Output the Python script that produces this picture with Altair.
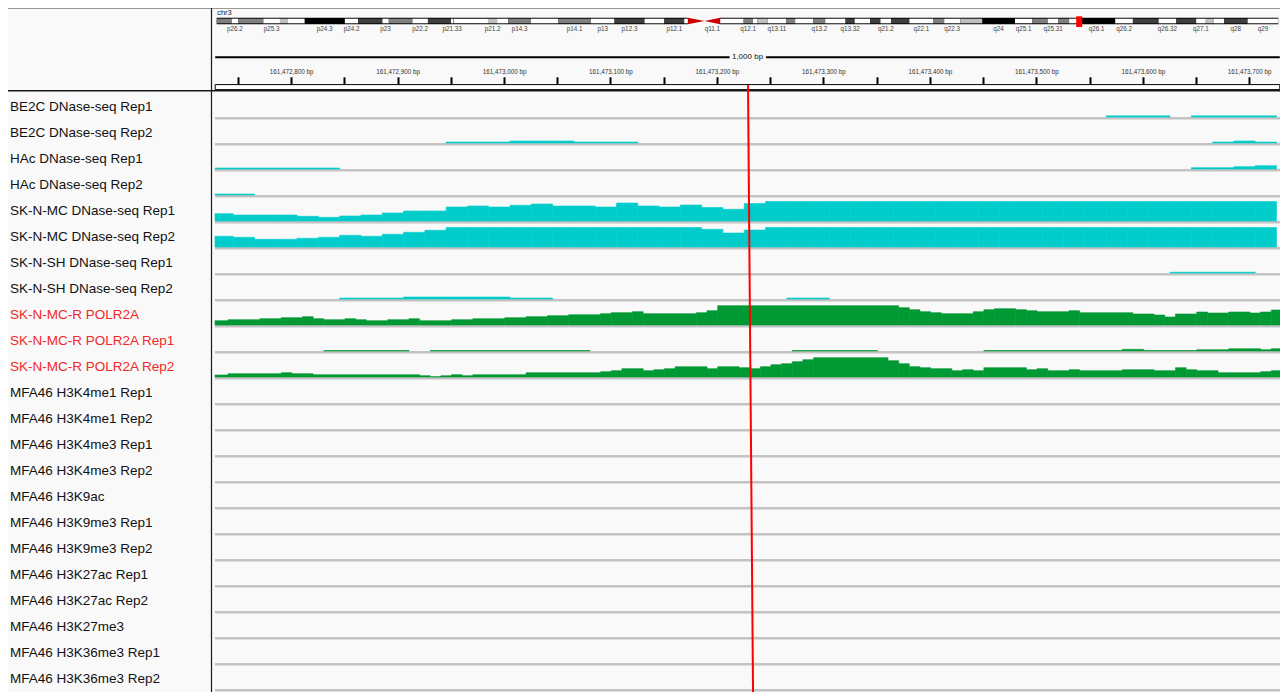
import altair as alt
import pandas as pd

# ------------------------------------------------------------------ data
CHROM = "chr3"
CHROM_LEN = 198022430
VIEW_START = 161472728.5
VIEW_END = 161473728.9
SCALE_BAR_LABEL = "1,000 bp"
SCALE_BAR_BP = 1000
CURSOR_BP = [161473229.2, 161473233.9]   # red guide line (top, bottom)

TRACK_NAMES = [
    "BE2C DNase-seq Rep1", "BE2C DNase-seq Rep2",
    "HAc DNase-seq Rep1", "HAc DNase-seq Rep2",
    "SK-N-MC DNase-seq Rep1", "SK-N-MC DNase-seq Rep2",
    "SK-N-SH DNase-seq Rep1", "SK-N-SH DNase-seq Rep2",
    "SK-N-MC-R POLR2A", "SK-N-MC-R POLR2A Rep1", "SK-N-MC-R POLR2A Rep2",
    "MFA46 H3K4me1 Rep1", "MFA46 H3K4me1 Rep2",
    "MFA46 H3K4me3 Rep1", "MFA46 H3K4me3 Rep2",
    "MFA46 H3K9ac", "MFA46 H3K9me3 Rep1", "MFA46 H3K9me3 Rep2",
    "MFA46 H3K27ac Rep1", "MFA46 H3K27ac Rep2", "MFA46 H3K27me3",
    "MFA46 H3K36me3 Rep1", "MFA46 H3K36me3 Rep2",
]
RED_TRACKS = ["SK-N-MC-R POLR2A", "SK-N-MC-R POLR2A Rep1", "SK-N-MC-R POLR2A Rep2"]

RULER_TICKS = [161472750, 161472800, 161472850, 161472900, 161472950,
               161473000, 161473050, 161473100, 161473150, 161473200,
               161473250, 161473300, 161473350, 161473400, 161473450,
               161473500, 161473550, 161473600, 161473650, 161473700]

# DNase-seq signal in 20-bp bins (bin index -> value)
DNASE_BIN0 = 161472725.6
DNASE_BIN_BP = 20
BE2C_REP1 = {42: 1.2, 43: 1.2, 44: 1.2, 46: 1.2, 47: 1.2, 48: 1.2, 49: 1.2}
BE2C_REP2 = {11: 1, 12: 1, 13: 1, 14: 2, 15: 2, 16: 2, 17: 1, 18: 1, 19: 1,
             47: 1, 48: 2, 49: 1}
HAC_REP1 = {0: 1, 1: 1, 2: 1, 3: 1, 4: 1, 5: 1, 46: 1.3, 47: 1.3, 48: 2.3, 49: 3.3}
HAC_REP2 = {0: 1, 1: 1}
SKNMC_REP1 = [7.3, 6.0, 6.0, 6.0, 4.7, 3.7, 5.0, 6.0, 8.0, 10.0,
              10.0, 14.0, 15.0, 14.0, 15.7, 17.0, 15.0, 15.0, 14.0, 18.0,
              15.0, 14.0, 16.0, 13.5, 11.7, 17.5, 19.5, 19.5, 19.5, 19.5,
              19.5, 19.5, 19.5, 19.5, 19.5, 19.5, 19.5, 19.5, 19.5, 19.5,
              19.5, 19.5, 19.5, 19.5, 19.5, 19.5, 19.5, 19.5, 19.5, 19.5]
SKNMC_REP2 = [10.7, 9.7, 7.7, 7.7, 8.7, 9.7, 11.7, 10.7, 12.7, 14.7,
              16.7, 19.5, 19.5, 19.5, 19.5, 19.5, 19.5, 19.5, 19.5, 19.5,
              19.5, 19.5, 19.5, 17.7, 14.0, 17.0, 19.5, 19.5, 19.5, 19.5,
              19.5, 19.5, 19.5, 19.5, 19.5, 19.5, 19.5, 19.5, 19.5, 19.5,
              19.5, 19.5, 19.5, 19.5, 19.5, 19.5, 19.5, 19.5, 19.5, 19.5]
SKNSH_REP1 = {45: 0.8, 46: 0.8, 47: 0.8, 48: 0.8}
SKNSH_REP2 = {6: 1, 7: 1, 8: 1, 9: 2, 10: 2, 11: 2, 12: 2, 13: 2, 14: 1, 15: 1,
              27: 1, 28: 1}

# POLR2A ChIP-seq signal as runs: start (bp after POL_BASE) and value
POL_BASE = 161472699.7
POL_END = 1031
POLR2A_STARTS = [21, 41, 71, 91, 111, 121, 131, 151, 161, 171, 191, 211, 221, 251,
                 271, 301, 321, 341, 361, 391, 401, 421, 431, 481, 491, 501, 671,
                 681, 691, 701, 711, 741, 751, 761, 781, 791, 801, 831, 841, 891,
                 911, 921, 931, 951, 961, 981, 1001, 1011, 1021]
POLR2A_VALUES = [4.3, 5.3, 6.3, 7.3, 8.3, 6.3, 5.3, 6.3, 5.3, 4.3, 5.3, 6.3, 4.3, 5.3,
                 6.3, 7.3, 8.3, 9.3, 10.3, 11.3, 12.3, 13.3, 11.3, 12.3, 14.3, 19.3, 17.3,
                 15.3, 13.3, 12.3, 11.3, 13.3, 15.3, 16.3, 15.3, 14.3, 13.3, 14.3, 12.3, 11.0,
                 10.0, 8.0, 11.0, 13.0, 12.0, 13.0, 12.0, 13.0, 15.0]
POLR2A_REP1_STARTS = [131, 211, 231, 381, 571, 651, 751, 881, 901, 951, 981, 1011, 1021]
POLR2A_REP1_VALUES = [0.5, 0, 0.5, 0, 0.5, 0, 0.5, 1.7, 0.5, 1.3, 2.3, 1.3, 2.3]
POLR2A_REP2_STARTS = [21, 41, 91, 101, 121, 221, 231, 241, 251, 261, 271, 321, 391, 401,
                      411, 431, 441, 451, 461, 491, 501, 521, 531, 541, 551, 561, 571,
                      581, 591, 661, 671, 681, 691, 701, 721, 731, 741, 751, 791, 801,
                      811, 831, 841, 881, 911, 931, 941, 951, 971, 1011, 1021]
POLR2A_REP2_VALUES = [2.0, 3.3, 4.3, 3.3, 2.3, 1.3, 0.3, 1.3, 2.3, 1.3, 2.3, 4.3, 5.3, 6.3,
                      8.3, 6.3, 7.3, 8.3, 10.3, 8.3, 10.3, 9.3, 8.3, 10.3, 12.3, 13.3, 15.3,
                      17.3, 19.3, 16.3, 13.3, 10.3, 9.3, 8.3, 6.3, 7.3, 6.3, 9.3, 7.3, 8.3,
                      6.3, 7.3, 6.3, 7.3, 6.3, 9.3, 7.3, 6.3, 4.3, 5.3, 6.3]

# chr3 cytobands (start in Mb)
CYTO_STARTS = [0, 2.8, 4.0, 8.7, 11.8, 13.3, 16.4, 23.9, 26.4, 30.9, 32.1, 36.5, 39.4,
               43.7, 44.1, 44.2, 50.6, 52.3, 54.4, 58.6, 63.7, 69.8, 74.2, 79.8, 83.5,
               87.2, 87.9, 91.0, 93.9, 98.3, 100.0, 100.9, 102.8, 106.2, 107.9, 111.3,
               113.5, 117.3, 119.0, 121.9, 123.8, 125.8, 129.2, 133.7, 135.7, 138.7,
               142.8, 148.9, 152.1, 155.0, 157.0, 159.0, 160.7, 167.6, 170.9, 175.7,
               179.0, 182.7, 184.5, 186.0, 187.9, 192.3]
CYTO_NAMES = ["p26.3", "p26.2", "p26.1", "p25.3", "p25.2", "p25.1", "p24.3", "p24.2",
              "p24.1", "p23", "p22.3", "p22.2", "p22.1", "p21.33", "p21.32", "p21.31",
              "p21.2", "p21.1", "p14.3", "p14.2", "p14.1", "p13", "p12.3", "p12.2",
              "p12.1", "p11.2", "p11.1", "q11.1", "q11.2", "q12.1", "q12.2", "q12.3",
              "q13.11", "q13.12", "q13.13", "q13.2", "q13.31", "q13.32", "q13.33",
              "q21.1", "q21.2", "q21.3", "q22.1", "q22.2", "q22.3", "q23", "q24",
              "q25.1", "q25.2", "q25.31", "q25.32", "q25.33", "q26.1", "q26.2",
              "q26.31", "q26.32", "q26.33", "q27.1", "q27.2", "q27.3", "q28", "q29"]
CYTO_STAINS = ["gpos50", "gneg", "gpos50", "gneg", "gpos25", "gneg", "gpos100", "gneg",
               "gpos75", "gneg", "gpos50", "gneg", "gpos75", "gneg", "gpos50", "gneg",
               "gpos25", "gneg", "gpos50", "gneg", "gpos50", "gneg", "gpos75", "gneg",
               "gpos75", "gneg", "acen", "acen", "gvar", "gpos50", "gneg", "gpos25",
               "gneg", "gpos50", "gneg", "gpos50", "gneg", "gpos75", "gneg", "gpos75",
               "gneg", "gpos75", "gneg", "gpos50", "gneg", "gpos25", "gpos100", "gneg",
               "gpos50", "gneg", "gpos50", "gneg", "gpos100", "gneg", "gpos75", "gneg",
               "gpos75", "gneg", "gpos25", "gneg", "gpos75", "gneg"]
SHOWN_BANDS = ["p26.2", "p25.3", "p24.3", "p24.2", "p23", "p22.2", "p21.33", "p21.2",
               "p14.3", "p14.1", "p13", "p12.3", "p12.1", "q11.1", "q12.1", "q13.11",
               "q13.2", "q13.32", "q21.2", "q22.1", "q22.3", "q24", "q25.1", "q25.31",
               "q26.1", "q26.2", "q26.32", "q27.1", "q28", "q29"]

# ------------------------------------------------------------------ layout / style
W, H = 1272, 684
ROW_PX = 26.0
FONT = "Liberation Sans, Arial, Helvetica, sans-serif"
BG = "#f9f9f9"
TEAL = "#00cccc"
GREEN = "#009933"
RED = "#ff0000"
LABEL_RED = "#f02828"
STAIN_COLORS = {"gneg": "#ffffff", "gvar": "#ffffff", "gpos25": "#bfbfbf",
                "gpos50": "#7f7f7f", "gpos75": "#3f3f3f", "gpos100": "#000000"}


def hy(px):
    """screen row -> track units (1 unit = one track row)"""
    return (px - 93.0) / ROW_PX


N = len(TRACK_NAMES)
YS = alt.Scale(domain=[hy(8), hy(692)], reverse=True, nice=False, zero=False)
GEN_SCALE = alt.Scale(domain=[VIEW_START, VIEW_END], range=[207, 1272],
                      nice=False, zero=False, clamp=True)
IDEO_SCALE = alt.Scale(domain=[0, CHROM_LEN], range=[208.7, 1270.3], nice=False, zero=False)
ASSAY_SCALE = alt.Scale(domain=["DNase-seq", "POLR2A"], range=[TEAL, GREEN])


def gx(field, axis=None):
    return alt.X(f"{field}:Q", scale=GEN_SCALE, axis=axis)


def ix(field):
    return alt.X(f"{field}:Q", scale=IDEO_SCALE, axis=None)


def yq(field, axis=None):
    return alt.Y(f"{field}:Q", scale=YS, axis=axis)


# ---------------- signal table
rows = []


def add_bins(track, values, assay):
    i = TRACK_NAMES.index(track)
    items = values.items() if isinstance(values, dict) else enumerate(values)
    for k, v in items:
        if v > 0:
            s = DNASE_BIN0 + k * DNASE_BIN_BP
            rows.append(dict(track=track, row=i, start=s, end=s + DNASE_BIN_BP,
                             value=v, assay=assay))


def add_runs(track, starts, values, assay):
    i = TRACK_NAMES.index(track)
    for j, (s, v) in enumerate(zip(starts, values)):
        e = starts[j + 1] if j + 1 < len(starts) else POL_END
        if v > 0:
            rows.append(dict(track=track, row=i, start=POL_BASE + s, end=POL_BASE + e,
                             value=v, assay=assay))


add_bins("BE2C DNase-seq Rep1", BE2C_REP1, "DNase-seq")
add_bins("BE2C DNase-seq Rep2", BE2C_REP2, "DNase-seq")
add_bins("HAc DNase-seq Rep1", HAC_REP1, "DNase-seq")
add_bins("HAc DNase-seq Rep2", HAC_REP2, "DNase-seq")
add_bins("SK-N-MC DNase-seq Rep1", SKNMC_REP1, "DNase-seq")
add_bins("SK-N-MC DNase-seq Rep2", SKNMC_REP2, "DNase-seq")
add_bins("SK-N-SH DNase-seq Rep1", SKNSH_REP1, "DNase-seq")
add_bins("SK-N-SH DNase-seq Rep2", SKNSH_REP2, "DNase-seq")
add_runs("SK-N-MC-R POLR2A", POLR2A_STARTS, POLR2A_VALUES, "POLR2A")
add_runs("SK-N-MC-R POLR2A Rep1", POLR2A_REP1_STARTS, POLR2A_REP1_VALUES, "POLR2A")
add_runs("SK-N-MC-R POLR2A Rep2", POLR2A_REP2_STARTS, POLR2A_REP2_VALUES, "POLR2A")

sig_df = pd.DataFrame(rows)
GAP = 2.0 / ROW_PX
sig_df["y"] = sig_df["row"] + 1 - GAP
sig_df["y2"] = sig_df["y"] - sig_df["value"] / ROW_PX

base_df = pd.DataFrame({"row": list(range(N))})
base_df["x0"] = VIEW_START
base_df["x1"] = VIEW_END
base_df["y"] = base_df["row"] + 1 - GAP
base_df["y2"] = base_df["row"] + 1.0
base_df["y3"] = base_df["row"] + 1 + 0.9 / ROW_PX

lab_df = pd.DataFrame({"name": TRACK_NAMES, "row": list(range(N))})
lab_df["y"] = lab_df["row"] + 0.52
lab_df["grp"] = ["highlight" if t in RED_TRACKS else "normal" for t in TRACK_NAMES]

ruler_axis = alt.Axis(
    orient="top", offset=-76.3, values=RULER_TICKS,
    labelExpr="datum.value % 100 === 0 ? format(datum.value, ',') + ' bp' : ''",
    tickSize=7.5, tickWidth=2, tickColor="#000000", domain=False, grid=False,
    labelFont=FONT, labelFontSize=6.3, labelColor="#333333", labelPadding=2.5,
    labelOverlap=False, labelFlush=False, labelBound=False, title=None)

one = pd.DataFrame({"k": [0]})

baseline = alt.Chart(base_df).mark_rect(color="#c3c3c3").encode(
    x=gx("x0"), x2="x1", y=yq("y"), y2="y2")
baseline_light = alt.Chart(base_df).mark_rect(color="#dedede").encode(
    x=gx("x0"), x2="x1", y=yq("y2"), y2="y3")

signal = alt.Chart(sig_df).mark_rect(strokeWidth=0.6).encode(
    x=gx("start"), x2="end", y=yq("y"), y2="y2",
    color=alt.Color("assay:N", scale=ASSAY_SCALE, legend=None),
    stroke=alt.Stroke("assay:N", scale=ASSAY_SCALE, legend=None))

labels = alt.Chart(lab_df).mark_text(align="left", baseline="middle", font=FONT,
                                     fontSize=13.5).encode(
    x=alt.value(2), y=yq("y"), text="name:N",
    color=alt.Color("grp:N", scale=alt.Scale(domain=["normal", "highlight"],
                                             range=["#111111", LABEL_RED]), legend=None))

# ---------------- ideogram
cyto_df = pd.DataFrame({"name": CYTO_NAMES, "stain": CYTO_STAINS,
                        "start": [s * 1e6 for s in CYTO_STARTS]})
cyto_df["end"] = list(cyto_df["start"][1:]) + [CHROM_LEN]
cyto_df["mid"] = (cyto_df["start"] + cyto_df["end"]) / 2
cyto_df["color"] = cyto_df["stain"].map(STAIN_COLORS)
cen = cyto_df[cyto_df["stain"] == "acen"]
p_end, q_start = float(cen["start"].min()), float(cen["end"].max())
cen_mid = float(cen["end"].min())

arms_df = pd.DataFrame({"start": [0, q_start], "end": [p_end, CHROM_LEN],
                        "y": [hy(17.7)] * 2, "y2": [hy(24.3)] * 2})
arms = alt.Chart(arms_df).mark_rect(color="#000000").encode(
    x=ix("start"), x2="end", y=yq("y"), y2="y2")

bands_df = cyto_df[cyto_df["stain"].isin(["gneg", "gvar", "gpos25", "gpos50", "gpos75"])].copy()
bands_df["y"] = hy(18.7)
bands_df["y2"] = hy(23.3)
bands = alt.Chart(bands_df).mark_rect().encode(
    x=ix("start"), x2="end", y=yq("y"), y2="y2", color=alt.Color("color:N", scale=None))

cen_df = pd.DataFrame({
    "band": ["p11.1", "p11.1", "q11.1", "q11.1"],
    "pos": [p_end, cen_mid, cen_mid, q_start],
    "y": [hy(17.7), hy(21.0), hy(21.0), hy(17.7)],
    "y2": [hy(24.3), hy(21.0), hy(21.0), hy(24.3)]})
centro = alt.Chart(cen_df).mark_area(color="#cc0000").encode(
    x=ix("pos"), y=yq("y"), y2="y2", detail="band:N")

marker_df = pd.DataFrame({"pos": [(VIEW_START + VIEW_END) / 2], "y": [hy(16.3)], "y2": [hy(27.0)]})
marker = alt.Chart(marker_df).mark_bar(color=RED, width=6).encode(
    x=ix("pos"), y=yq("y"), y2="y2")

chr_df = pd.DataFrame({"pos": [0], "y": [hy(13.0)], "t": [CHROM]})
chr_label = alt.Chart(chr_df).mark_text(align="left", baseline="middle", font=FONT,
                                        fontSize=7.5, color="#222222", dx=0.5).encode(
    x=ix("pos"), y=yq("y"), text="t:N")

blab_df = cyto_df[cyto_df["name"].isin(SHOWN_BANDS)].copy()
blab_df["y"] = hy(28.6)
band_labels = alt.Chart(blab_df).mark_text(baseline="middle", font=FONT, fontSize=6.3,
                                           color="#444444").encode(
    x=ix("mid"), y=yq("y"), text="name:N")

# ---------------- ruler
center = (VIEW_START + VIEW_END) / 2
bar_df = pd.DataFrame({"x": [center - SCALE_BAR_BP / 2], "x2": [center + SCALE_BAR_BP / 2],
                       "y": [hy(57.3)], "t": [SCALE_BAR_LABEL], "c": [center]})
scale_line = alt.Chart(bar_df).mark_rule(color="#000000", strokeWidth=2).encode(
    x=gx("x"), x2="x2", y=yq("y"))
scale_halo = alt.Chart(bar_df).mark_text(font=FONT, fontSize=8, baseline="middle",
                                         color=BG, stroke=BG, strokeWidth=6).encode(
    x=gx("c"), y=yq("y"), text="t:N")
scale_text = alt.Chart(bar_df).mark_text(font=FONT, fontSize=8, baseline="middle",
                                         color="#111111").encode(
    x=gx("c"), y=yq("y"), text="t:N")

box_df = pd.DataFrame({"x": [center - SCALE_BAR_BP / 2], "x2": [center + SCALE_BAR_BP / 2],
                       "y": [hy(84.6)], "y2": [hy(89.6)]})
ruler_box = alt.Chart(box_df).mark_rect(fill="#ffffff", stroke="#000000", strokeWidth=1).encode(
    x=gx("x", axis=ruler_axis), x2="x2", y=yq("y"), y2="y2")

# ---------------- frame lines
hl_df = pd.DataFrame({"y": [hy(8.5)]})
top_line = alt.Chart(hl_df).mark_rule(color="#9a9a9a", strokeWidth=1).encode(y=yq("y"))
sep_df = pd.DataFrame({"y": [hy(90.8)]})
sep_line = alt.Chart(sep_df).mark_rule(color="#1a1a1a", strokeWidth=1.5).encode(y=yq("y"))
vline = alt.Chart(one).mark_rule(color="#1a1a1a", strokeWidth=1.2).encode(
    x=alt.value(203.5), y=alt.value(0), y2=alt.value(H))

red_df = pd.DataFrame({"x": [CURSOR_BP[0]], "x2": [CURSOR_BP[1]],
                       "y": [hy(85.0)], "y2": [hy(692.0)]})
red_line = alt.Chart(red_df).mark_rule(color=RED, strokeWidth=2).encode(
    x=gx("x"), x2="x2", y=yq("y"), y2="y2")

chart = alt.layer(
    baseline, baseline_light, signal, labels,
    arms, bands, centro, marker, chr_label, band_labels,
    scale_line, scale_halo, scale_text, ruler_box,
    top_line, sep_line, vline, red_line,
).resolve_scale(x="independent", color="independent", stroke="independent").properties(
    width=W, height=H, padding=0, background=BG,
    autosize=alt.AutoSizeParams(type="none"),
).configure_view(strokeWidth=0)

chart.save("out.html", embed_options={"renderer": "svg", "actions": False})
